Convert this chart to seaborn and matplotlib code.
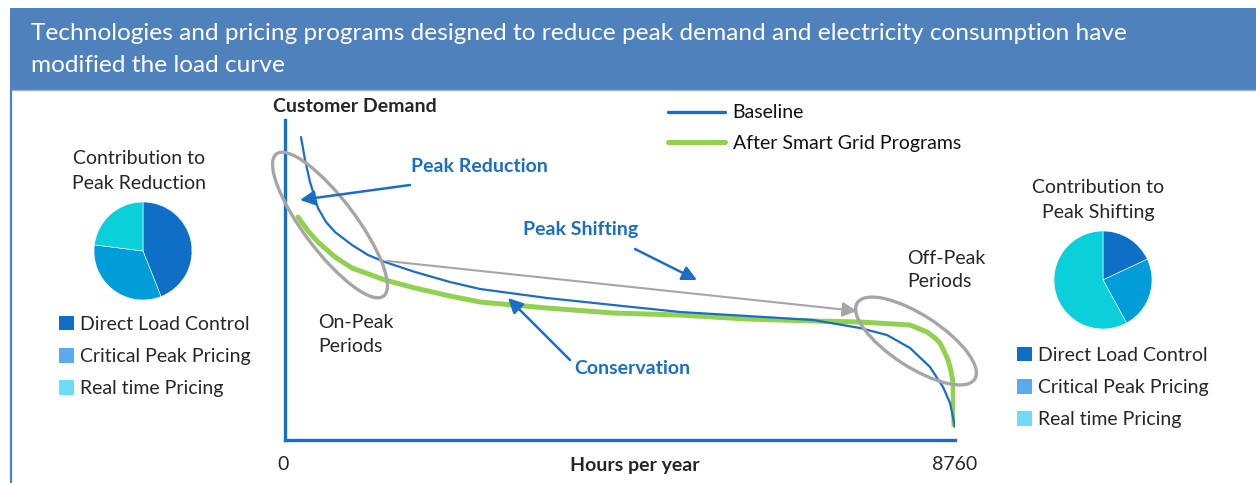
import numpy as np
import pandas as pd
import matplotlib
matplotlib.use("Agg")
import matplotlib.pyplot as plt
from matplotlib.patches import Ellipse, Rectangle, Patch
import seaborn as sns

# =========================
# Data
# =========================
HORAS_BASE = [209, 262, 327, 431, 536, 654, 876, 1085, 1307, 1700, 2157, 2550,
              3426, 4289, 5164, 6040, 6903, 7518, 7871, 8172, 8433, 8603,
              8695, 8760]
DEMANDA_BASE = [303, 280, 258, 232, 218, 208, 195, 185, 178, 168, 158, 151,
                142, 135, 128, 124, 120, 112, 105, 92, 73, 53,
                37, 13]

HORAS_SMART = [170, 301, 431, 654, 876, 1307, 1700, 2157, 2550, 3426, 4289,
               5164, 6040, 6903, 7518, 8172, 8394, 8499, 8564, 8616, 8669,
               8708, 8734, 8747]
DEMANDA_SMART = [223, 209, 198, 183, 172, 160, 152, 144, 138, 132, 127,
                 125, 121, 119, 118, 115, 108, 102, 97, 89, 80,
                 69, 57, 15]

PROGRAMAS = ["Direct Load Control", "Critical Peak Pricing", "Real time Pricing"]
REDUCAO = [44, 33, 23]
DESLOCAMENTO = [18, 24, 58]

COR_FATIAS = ["#0F6FC6", "#009DD9", "#0BD0D9"]
COR_LEGENDA = ["#0F6FC6", "#5BAAF0", "#6EDCF8"]
AZUL = "#1A6EC4"
VERDE = "#92D050"
CINZA = "#A6A6A6"
FONTE = "Lato"
TAM = 14

# =========================
# Figure
# =========================
sns.set_theme(style="white")
plt.rcParams["font.family"] = [FONTE, "DejaVu Sans"]

W, H = 1256, 483
fig = plt.figure(figsize=(W / 100, H / 100), dpi=100)


def caixa(x0, y0, x1, y1):
    # pixel box (top-left origin) -> figure fraction
    return [x0 / W, 1 - y1 / H, (x1 - x0) / W, (y1 - y0) / H]


# main load-curve axes
ax = fig.add_axes(caixa(285, 120, 955, 440))
df_base = pd.DataFrame({"Horas": HORAS_BASE, "Demanda": DEMANDA_BASE})
df_smart = pd.DataFrame({"Horas": HORAS_SMART, "Demanda": DEMANDA_SMART})
sns.lineplot(data=df_smart, x="Horas", y="Demanda", ax=ax, color=VERDE,
             linewidth=3.6, label="After Smart Grid Programs", sort=False, zorder=2)
sns.lineplot(data=df_base, x="Horas", y="Demanda", ax=ax, color=AZUL,
             linewidth=1.6, label="Baseline", sort=False, zorder=3)
ax.set_xlim(0, 8760)
ax.set_ylim(0, 320)
ax.set_xticks([])
ax.set_yticks([])
ax.set_xlabel("")
ax.set_ylabel("")
for lado in ["top", "right"]:
    ax.spines[lado].set_visible(False)
for lado in ["left", "bottom"]:
    ax.spines[lado].set_color(AZUL)
    ax.spines[lado].set_linewidth(2.4)
ax.patch.set_alpha(0)

hs, ls = ax.get_legend_handles_labels()
leg = ax.legend(hs[::-1], ls[::-1], loc="upper left", frameon=False,
                bbox_to_anchor=(650 / W, 1 - 87 / H), bbox_transform=fig.transFigure,
                fontsize=TAM, handlelength=2.95, handletextpad=0.4, labelspacing=0.68)
for t in leg.get_texts():
    t.set_color("#111111")
leg.get_lines()[0].set_linewidth(2.4)
leg.get_lines()[1].set_linewidth(3.6)


# pies
def pizza(centro_x, centro_y, valores, leg_x, leg_y):
    r = 49
    axp = fig.add_axes(caixa(centro_x - r, centro_y - r, centro_x + r, centro_y + r))
    axp.pie(valores, colors=COR_FATIAS, startangle=90, counterclock=False,
            wedgeprops=dict(edgecolor="white", linewidth=0.4))
    axp.set_xlim(-1, 1)
    axp.set_ylim(-1, 1)
    axp.set_aspect("equal")
    handles = [Patch(facecolor=c, edgecolor="none") for c in COR_LEGENDA]
    axp.legend(handles, PROGRAMAS, loc="upper left", frameon=False,
               bbox_to_anchor=(leg_x / W, 1 - leg_y / H), bbox_transform=fig.transFigure,
               fontsize=TAM, handlelength=0.8, handleheight=0.8,
               handletextpad=0.3, labelspacing=0.78)


pizza(143, 251, REDUCAO, 41, 298)
pizza(1103, 280, DESLOCAMENTO, 999, 329)

# overlay in pixel coordinates for banner and annotations
ov = fig.add_axes([0, 0, 1, 1], zorder=5)
ov.set_xlim(0, W)
ov.set_ylim(H, 0)
ov.axis("off")
ov.patch.set_alpha(0)

ov.add_patch(Rectangle((10, 8), W - 10, 82, facecolor="#4F81BD", edgecolor="none"))
ov.plot([10, W], [90, 90], color="#95B3D7", lw=1)
ov.plot([11, 11], [90, H], color="#4F81BD", lw=1.6)
ov.text(31, 33, "Technologies and pricing programs designed to reduce peak demand and "
        "electricity consumption have", color="white", fontsize=17.6, va="center")
ov.text(31, 66, "modified the load curve", color="white", fontsize=17.6, va="center")

ov.text(273, 106, "Customer Demand", fontsize=TAM, fontweight="bold", va="center")
ov.text(283, 465, "0", fontsize=TAM, ha="center", va="center")
ov.text(955, 465, "8760", fontsize=TAM, ha="center", va="center")
ov.text(635, 465, "Hours per year", fontsize=TAM, fontweight="bold", ha="center", va="center")

ov.text(411, 166, "Peak Reduction", color=AZUL, fontsize=TAM, fontweight="bold", va="center")
ov.text(523, 230, "Peak Shifting", color=AZUL, fontsize=TAM, fontweight="bold", va="center")
ov.text(574, 368, "Conservation", color=AZUL, fontsize=TAM, fontweight="bold", va="center")
ov.text(318, 334, "On-Peak\nPeriods", fontsize=TAM, va="center", linespacing=1.5)
ov.text(907, 270, "Off-Peak\nPeriods", fontsize=TAM, va="center", linespacing=1.45)

ov.text(139, 171, "Contribution to\nPeak Reduction", fontsize=TAM, ha="center",
        va="center", linespacing=1.55)
ov.text(1098, 200, "Contribution to\nPeak Shifting", fontsize=TAM, ha="center",
        va="center", linespacing=1.55)

ov.add_patch(Ellipse((330, 225), 178, 52, angle=53, fill=False, edgecolor=CINZA, lw=2.4))
ov.add_patch(Ellipse((916, 341), 140, 52, angle=33, fill=False, edgecolor=CINZA, lw=2.4))

seta = dict(arrowstyle="-|>", lw=1.8, mutation_scale=22, shrinkA=0, shrinkB=0)
ov.annotate("", xy=(300, 200), xytext=(410, 185), arrowprops=dict(seta, color=AZUL))
ov.annotate("", xy=(697, 280), xytext=(635, 249), arrowprops=dict(seta, color=AZUL))
ov.annotate("", xy=(508, 298), xytext=(570, 360), arrowprops=dict(seta, color=AZUL))
ov.annotate("", xy=(857, 311), xytext=(387, 261), arrowprops=dict(seta, color=CINZA, lw=1.5))

fig.savefig("out.png", dpi=100)
